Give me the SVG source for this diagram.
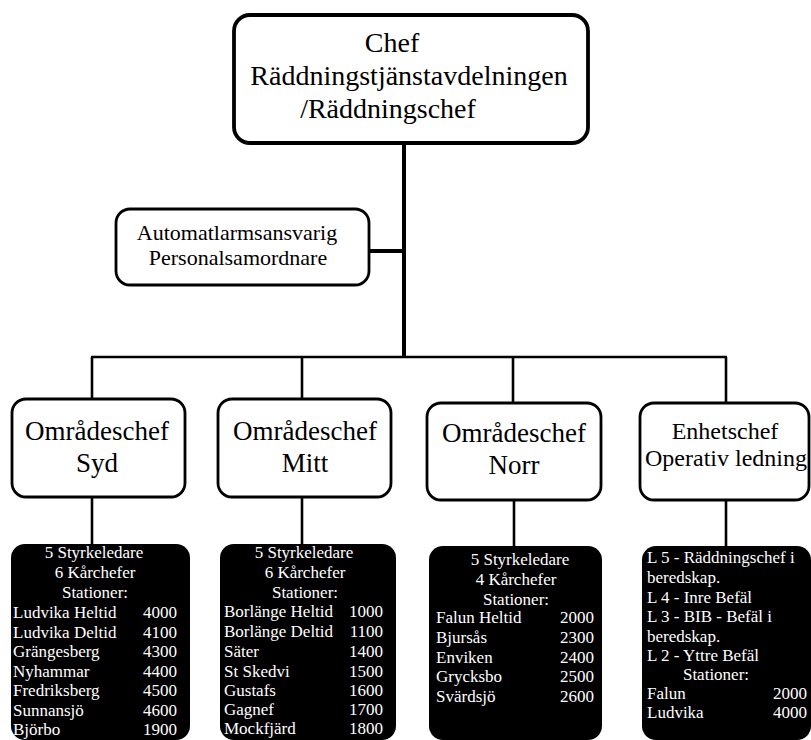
<svg xmlns="http://www.w3.org/2000/svg" width="811" height="740" viewBox="0 0 811 740">
<style>
.box{fill:#fff;stroke:#000;stroke-width:2.8}
.top{fill:#fff;stroke:#000;stroke-width:3.8}
.blk{fill:#000;stroke:none}
.t{font-family:"Liberation Serif","Times New Roman",serif;fill:#000}
.w{font-family:"Liberation Serif","Times New Roman",serif;fill:#fff;font-size:17px}
.c{text-anchor:middle}
.e{text-anchor:end}
.ln{stroke:#000;fill:none}
</style>
<rect width="811" height="740" fill="#fff"/>
<g id="connectors">
<line class="ln" x1="404" y1="143" x2="404" y2="358" stroke-width="4"/>
<line class="ln" x1="369" y1="251" x2="404" y2="251" stroke-width="4"/>
<line class="ln" x1="91" y1="357" x2="727" y2="357" stroke-width="2.6"/>
<line class="ln" x1="92" y1="357" x2="92" y2="399" stroke-width="2.6"/>
<line class="ln" x1="302" y1="357" x2="302" y2="399" stroke-width="2.6"/>
<line class="ln" x1="513" y1="357" x2="513" y2="403" stroke-width="2.6"/>
<line class="ln" x1="726" y1="357" x2="726" y2="403" stroke-width="2.6"/>
<line class="ln" x1="92" y1="497" x2="92" y2="545" stroke-width="2.6"/>
<line class="ln" x1="302" y1="497" x2="302" y2="545" stroke-width="2.6"/>
<line class="ln" x1="514" y1="500" x2="514" y2="547" stroke-width="2.6"/>
<line class="ln" x1="726" y1="500" x2="726" y2="547" stroke-width="2.6"/>
</g>
<g id="chef">
<rect class="top" x="234" y="15" width="354" height="128" rx="16"/>
<text class="t c" x="392" y="52" font-size="28">Chef</text>
<text class="t c" x="409" y="85" font-size="28">Räddningstjänstavdelningen</text>
<text class="t c" x="388" y="118" font-size="28">/Räddningschef</text>
</g>
<g id="automatlarm">
<rect class="box" x="116" y="209" width="253" height="76" rx="14"/>
<text class="t c" x="237" y="240" font-size="22">Automatlarmsansvarig</text>
<text class="t c" x="238" y="265" font-size="22">Personalsamordnare</text>
</g>
<g id="syd">
<rect class="box" x="12" y="399" width="173" height="98" rx="14"/>
<text class="t c" x="97" y="440" font-size="27">Områdeschef</text>
<text class="t c" x="97" y="472" font-size="27">Syd</text>
</g>
<g id="mitt">
<rect class="box" x="218" y="399" width="173" height="98" rx="14"/>
<text class="t c" x="305" y="440" font-size="27">Områdeschef</text>
<text class="t c" x="305" y="472" font-size="27">Mitt</text>
</g>
<g id="norr">
<rect class="box" x="427" y="403" width="174" height="97" rx="14"/>
<text class="t c" x="514" y="442" font-size="27">Områdeschef</text>
<text class="t c" x="514" y="474" font-size="27">Norr</text>
</g>
<g id="enhetschef">
<rect class="box" x="640" y="403" width="169" height="97" rx="14"/>
<text class="t c" x="725" y="439" font-size="24">Enhetschef</text>
<text class="t c" x="726" y="466" font-size="24">Operativ ledning</text>
</g>
<g id="syd-stationer">
<rect class="blk" x="11" y="544" width="179" height="196" rx="14"/>
<text class="w c" x="94" y="558">5 Styrkeledare</text>
<text class="w c" x="95" y="578">6 Kårchefer</text>
<text class="w c" x="95" y="598">Stationer:</text>
<text class="w" x="13" y="618">Ludvika Heltid</text><text class="w e" x="177" y="618">4000</text>
<text class="w" x="13" y="638">Ludvika Deltid</text><text class="w e" x="177" y="638">4100</text>
<text class="w" x="13" y="657">Grängesberg</text><text class="w e" x="177" y="657">4300</text>
<text class="w" x="13" y="677">Nyhammar</text><text class="w e" x="177" y="677">4400</text>
<text class="w" x="13" y="696">Fredriksberg</text><text class="w e" x="177" y="696">4500</text>
<text class="w" x="13" y="716">Sunnansjö</text><text class="w e" x="177" y="716">4600</text>
<text class="w" x="13" y="735">Björbo</text><text class="w e" x="177" y="735">1900</text>
</g>
<g id="mitt-stationer">
<rect class="blk" x="220" y="544" width="176" height="196" rx="14"/>
<text class="w c" x="304" y="558">5 Styrkeledare</text>
<text class="w c" x="305" y="578">6 Kårchefer</text>
<text class="w c" x="305" y="598">Stationer:</text>
<text class="w" x="224" y="617">Borlänge Heltid</text><text class="w e" x="383" y="617">1000</text>
<text class="w" x="224" y="637">Borlänge Deltid</text><text class="w e" x="383" y="637">1100</text>
<text class="w" x="224" y="657">Säter</text><text class="w e" x="383" y="657">1400</text>
<text class="w" x="224" y="677">St Skedvi</text><text class="w e" x="383" y="677">1500</text>
<text class="w" x="224" y="696">Gustafs</text><text class="w e" x="383" y="696">1600</text>
<text class="w" x="224" y="715">Gagnef</text><text class="w e" x="383" y="715">1700</text>
<text class="w" x="224" y="734">Mockfjärd</text><text class="w e" x="383" y="734">1800</text>
</g>
<g id="norr-stationer">
<rect class="blk" x="429" y="546" width="173" height="194" rx="14"/>
<text class="w c" x="520" y="565">5 Styrkeledare</text>
<text class="w c" x="516" y="585">4 Kårchefer</text>
<text class="w c" x="516" y="605">Stationer:</text>
<text class="w" x="436" y="623">Falun Heltid</text><text class="w e" x="594" y="623">2000</text>
<text class="w" x="436" y="643">Bjursås</text><text class="w e" x="594" y="643">2300</text>
<text class="w" x="436" y="663">Enviken</text><text class="w e" x="594" y="663">2400</text>
<text class="w" x="436" y="682">Grycksbo</text><text class="w e" x="594" y="682">2500</text>
<text class="w" x="436" y="702">Svärdsjö</text><text class="w e" x="594" y="702">2600</text>
</g>
<g id="enhet-stationer">
<rect class="blk" x="642" y="546" width="169" height="194" rx="14"/>
<text class="w" x="647" y="563">L 5 - Räddningschef i</text>
<text class="w" x="647" y="583">beredskap.</text>
<text class="w" x="647" y="603">L 4 - Inre Befäl</text>
<text class="w" x="647" y="622">L 3 - BIB - Befäl i</text>
<text class="w" x="647" y="642">beredskap.</text>
<text class="w" x="647" y="661">L 2 - Yttre Befäl</text>
<text class="w c" x="716" y="680">Stationer:</text>
<text class="w" x="647" y="699">Falun</text><text class="w e" x="807" y="699">2000</text>
<text class="w" x="647" y="718">Ludvika</text><text class="w e" x="807" y="718">4000</text>
</g>
</svg>
